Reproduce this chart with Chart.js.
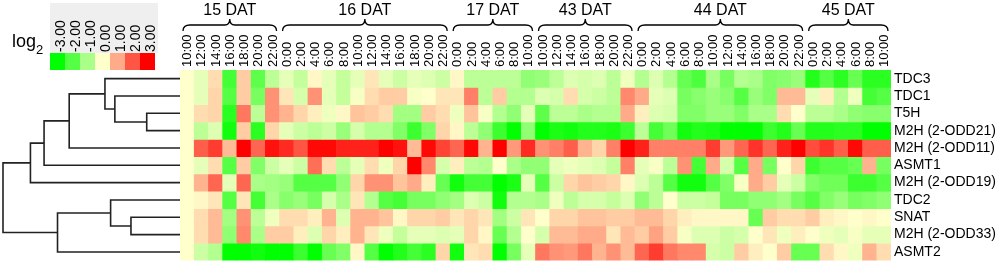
<!DOCTYPE html>
<html><head><meta charset="utf-8">
<script src="https://cdn.jsdelivr.net/npm/chart.js@4"></script>
<style>html,body{margin:0;padding:0;background:#fff;overflow:hidden}#wrap{width:1000px;height:272px;position:relative}</style>
</head><body><div id="wrap"><canvas id="c" width="1000" height="272"></canvas></div>
<script>
const timeLabels = [
 '10:00','12:00','14:00','16:00','18:00','20:00','22:00',
 '0:00','2:00','4:00','6:00','8:00','10:00','12:00','14:00','16:00','18:00','20:00','22:00',
 '0:00','2:00','4:00','6:00','8:00','10:00',
 '10:00','12:00','14:00','16:00','18:00','20:00','22:00',
 '0:00','2:00','4:00','6:00','8:00','10:00','12:00','14:00','16:00','18:00','20:00','22:00',
 '0:00','2:00','4:00','6:00','8:00','10:00'];
const dayLabels = ['15 DAT','16 DAT','17 DAT','43 DAT','44 DAT','45 DAT'];
const daySpans = [7,12,6,7,12,6];
const genes = ['TDC3','TDC1','T5H','M2H (2-ODD21)','M2H (2-ODD11)','ASMT1','M2H (2-ODD19)','TDC2','SNAT','M2H (2-ODD33)','ASMT2'];

// log2 values per gene, one per time point
const tdc3  = [0,-0.3,0.4,-2.2,0.6,-1.9,-0.8,-0.3,-0.7,0.1,-0.3, -0.7,-0.3,0.3,-0.3,-0.6,-0.3,-0.4,-0.6,0.1, -0.8,-0.8,-0.8,-0.8,-1.3,-1.2,-0.8,-0.4,-0.5,-0.4, -0.8,-0.2,-0.9,-0.4,-0.9,-1.8,-2.1,-1.0,-1.6,-0.9, -1.0,-1.5,-1.4,-1.2,-2.6,-2.0,-2.5,-1.8,-2.5,-2.5];
const tdc1  = [0,-0.3,0.5,-2.0,0.6,-1.6,1.3,0.3,-0.5,1.3,-0.3, -0.7,-0.1,0.4,0.6,0.6,-0.1,0.0,0.3,0.3, 1.5,-0.8,0.6,-0.9,-0.9,-0.4,-0.5,0.4,-0.5,-0.6, -0.8,1.4,1.0,-0.3,-0.4,-1.6,-1.4,-1.2,-1.4,-2.0, -1.2,-1.5,0.8,0.8,-0.3,0.2,-0.9,-0.2,-2.2,-2.0];
const t5h   = [0,0.4,0.5,-2.5,1.6,-0.8,1.3,0.9,0.5,0.2,-0.2, 0.1,0.7,0.6,0.4,-1.1,-1.1,0.6,0.4,-0.2, 0.7,-0.1,-0.9,-1.3,-0.3,-1.9,-0.8,-0.8,-1.0,-0.9, -0.9,1.0,0.2,-0.4,-0.5,-1.5,-1.5,-1.2,-1.2,-1.5, -1.0,-1.0,0.4,0.0,-0.8,-0.8,-1.0,-1.3,-1.4,-1.4];
const odd21 = [0,-0.8,-0.4,-2.8,0.6,-2.5,0.5,-0.3,-0.6,-0.8,-0.6, -1.2,-0.5,-0.9,-0.9,-1.5,-2.3,-1.5,0.5,0.1, -0.8,-1.3,-2.3,-3.0,-1.3,-3.0,-2.7,-2.8,-2.6,-2.6, -2.7,-2.3,-0.8,-2.2,-1.7,-2.8,-2.6,-2.7,-3.0,-3.0, -3.0,-2.3,-2.6,-1.8,-2.6,-2.6,-2.5,-2.5,-3.0,-3.0];
const odd11 = [0,1.9,2.3,0.8,3.0,1.8,2.8,2.5,2.0,2.9,2.9, 2.6,2.6,2.6,3.0,2.8,0.8,2.9,2.2,1.8, 2.9,0.9,3.0,1.2,2.5,1.3,1.5,1.9,0.9,0.5, 1.5,3.0,2.6,1.5,1.5,1.5,1.5,2.3,1.2,1.8, 2.4,1.8,2.6,3.0,2.1,2.4,1.9,2.9,1.9,1.9];
const asmt1 = [0,-0.3,0.4,-2.0,0.6,-1.5,-0.6,-0.3,-0.6,1.7,0.4, -0.8,-0.3,0.4,-0.2,0.5,3.0,1.4,-0.5,0.2, -0.8,-0.9,0.0,-1.0,-1.3,-1.3,-0.3,-0.2,-0.3,-0.4, -0.7,1.5,-0.3,-0.1,-0.8,1.3,-2.2,1.0,-0.5,-2.0, 1.0,-1.6,0.0,0.5,-2.3,-2.0,-2.0,-1.8,0.9,-1.6];
const odd19 = [0,0.9,1.8,-0.3,1.8,-1.0,-1.1,-1.2,-2.0,-2.0,-2.0, -1.3,0.5,1.3,1.3,0.7,1.0,0.2,-1.8,-2.8, -2.2,-2.2,-3.0,-2.7,-0.3,-2.0,-0.6,0.5,0.7,0.6, 0.5,0.1,-0.4,-0.8,-2.0,-2.8,-2.8,-2.0,-1.5,-0.1, 1.0,0.6,-0.3,-0.6,-1.5,-1.7,-1.7,-2.3,-2.3,-2.0];
const tdc2  = [0,0.1,0.3,-2.0,0.3,-2.2,-1.0,-1.4,-1.2,-1.6,-0.5, -1.0,0.3,-0.9,-2.0,-2.2,-1.6,-1.6,-1.3,-1.1, -0.4,-0.6,-2.8,-0.9,-0.9,-1.0,-0.2,-0.8,-0.5,-0.5, -0.7,-0.4,-1.3,-0.8,0.0,-0.6,-0.6,-0.7,-1.6,-1.6, -1.3,-1.3,-1.1,-1.6,-2.0,-1.5,-1.2,-1.6,-1.5,-1.3];
const snat  = [0,0.4,0.8,-1.1,1.3,-0.8,-0.2,0.4,0.4,0.2,0.9, -0.4,0.9,0.9,0.7,0.1,0.5,0.5,0.6,0.3, 0.5,0.3,-1.1,-0.6,0.3,0.0,0.5,0.5,0.7,0.7, 0.6,0.6,0.8,0.8,0.5,0.2,0.1,0.1,0.1,0.1, -1.8,0.6,0.4,0.4,0.6,0.2,0.1,0.0,0.1,0.0];
const odd33 = [0,0.4,0.8,-1.3,1.4,-1.0,0.6,0.6,0.2,-0.4,0.5, 0.2,0.9,0.3,-0.2,-0.7,-0.3,-0.3,-0.4,-0.3, 0.5,0.1,-1.8,-0.9,0.0,-0.5,0.8,0.8,1.0,1.0, 0.3,0.8,0.6,1.1,0.6,-0.1,-0.4,-0.4,-0.6,-0.5, 0.0,0.3,-0.2,0.2,0.0,-0.2,-0.3,-0.1,-0.3,-0.3];
const asmt2 = [0,-0.6,-0.9,-3.0,-3.0,-2.8,-3.0,-3.0,-2.3,-3.0,-1.8, -1.5,0.1,-2.0,-3.0,-2.6,-2.2,-2.5,0.5,-2.8, 0.3,0.4,-3.0,-1.6,-0.3,1.6,1.3,1.2,1.6,0.9, 1.3,0.8,1.8,2.3,1.6,1.4,1.4,-0.5,-0.6,0.6, 0.2,0.0,0.6,-1.8,-1.8,0.4,0.1,-0.2,0.9,0.4];
const rows = [tdc3, tdc1, t5h, odd21, odd11, asmt1, odd19, tdc2, snat, odd33, asmt2];

const legendTicks = [-3,-2,-1,0,1,2,3];
// dendrogram merges: [childA, childB, height]; number = gene row, 'nK' = K-th merge
const dendroMerges = [
 [2,3,0.188],[1,'n0',0.368],[0,'n1',0.424],['n2',4,0.626],['n3',5,0.768],['n4',6,0.845],
 [8,9,0.277],[7,'n6',0.392],['n7',10,0.692],['n5','n8',1.0]];

const FONT = '"Liberation Sans", Arial, Helvetica, sans-serif';

function heatColor(v){
  v = Math.max(-3, Math.min(3, v));
  const z=[255,255,204], g=[0,255,0], r=[255,0,0];
  const b = v<0 ? g : r, t = Math.abs(v)/3;
  const c = z.map((zz,i)=>Math.round(zz+(b[i]-zz)*t));
  return `rgb(${c[0]},${c[1]},${c[2]})`;
}

const decor = {
  id:'decor',
  afterDraw(chart){
    const {ctx, chartArea:{left, top}, scales:{x, y}} = chart;
    ctx.save();
    // time tick labels (rotated, reading upward)
    ctx.fillStyle='#000'; ctx.font='13px '+FONT;
    timeLabels.forEach((t,i)=>{
      ctx.save(); ctx.translate(x.getPixelForValue(i)+0.5, top-3); ctx.rotate(-Math.PI/2);
      ctx.textAlign='left'; ctx.textBaseline='middle'; ctx.fillText(t,0,0); ctx.restore();
    });
    // day braces and labels
    const half = (x.getPixelForValue(1)-x.getPixelForValue(0))/2;
    let start = 0;
    ctx.strokeStyle='#000'; ctx.lineWidth=1.3;
    ctx.font='16px '+FONT; ctx.textAlign='center'; ctx.textBaseline='middle';
    daySpans.forEach((n,i)=>{
      const x0 = x.getPixelForValue(start)-half+3;
      const x1 = x.getPixelForValue(start+n-1)+half-3;
      const xm = (x0+x1)/2;
      ctx.beginPath();
      ctx.moveTo(x0,31); ctx.quadraticCurveTo(x0,25,x0+7,25); ctx.lineTo(xm-5,25);
      ctx.quadraticCurveTo(xm,25,xm,19);
      ctx.quadraticCurveTo(xm,25,xm+5,25); ctx.lineTo(x1-7,25); ctx.quadraticCurveTo(x1,25,x1,31);
      ctx.stroke();
      ctx.fillText(dayLabels[i], xm, 11);
      start += n;
    });
    // dendrogram
    const nodes = [];
    const hx = h => left - h*(left-3);
    const pos = c => typeof c==='number' ? {x:left, y:y.getPixelForValue(c+0.5)} : nodes[+c.slice(1)];
    ctx.strokeStyle='#222'; ctx.lineWidth=1.6; ctx.lineJoin='miter';
    dendroMerges.forEach(([a,b,h])=>{
      const pa=pos(a), pb=pos(b), xh=hx(h);
      ctx.beginPath();
      ctx.moveTo(pa.x,pa.y); ctx.lineTo(xh,pa.y); ctx.lineTo(xh,pb.y); ctx.lineTo(pb.x,pb.y);
      ctx.stroke();
      nodes.push({x:xh, y:(pa.y+pb.y)/2});
    });
    // colour key
    ctx.fillStyle='#efefef'; ctx.fillRect(50,3,108,50);
    legendTicks.forEach((v,k)=>{ ctx.fillStyle=heatColor(v); ctx.fillRect(50+15*k,53,15,17); });
    ctx.fillStyle='#000'; ctx.font='14px '+FONT;
    legendTicks.forEach((v,k)=>{
      ctx.save(); ctx.translate(57.5+15*k+4,52); ctx.rotate(-Math.PI/2);
      ctx.textAlign='left'; ctx.textBaseline='middle'; ctx.fillText(v.toFixed(2),0,0); ctx.restore();
    });
    ctx.textAlign='left'; ctx.textBaseline='alphabetic';
    ctx.font='18px '+FONT; ctx.fillText('log',12,47);
    ctx.font='13px '+FONT; ctx.fillText('2',36,54);
    ctx.restore();
  }
};

new Chart(document.getElementById('c'), {
  type:'bar',
  data:{
    labels: timeLabels,
    datasets: genes.map((g,i)=>({
      label:g, data: timeLabels.map(()=>1), backgroundColor: rows[i].map(heatColor),
      borderWidth:0, barPercentage:1, categoryPercentage:1, stack:'s'
    }))
  },
  options:{
    responsive:false, animation:false, devicePixelRatio:1,
    layout:{padding:{left:180, top:0, right:0, bottom:2}},
    plugins:{legend:{display:false}, tooltip:{enabled:false}},
    scales:{
      x:{type:'category', position:'top', stacked:true, offset:true,
         grid:{display:false, drawTicks:false}, border:{display:false},
         ticks:{display:false},
         afterFit: s=>{ s.height=70; }},
      y:{stacked:true, min:0, max:11, reverse:true, display:false},
      yg:{type:'category', axis:'y', labels:genes, position:'right', offset:true,
         grid:{display:false, drawTicks:false}, border:{display:false},
         ticks:{autoSkip:false, padding:3, color:'#000', font:{family:FONT, size:14}},
         afterFit: s=>{ s.width=109; }}
    }
  },
  plugins:[decor]
});
</script></body></html>
